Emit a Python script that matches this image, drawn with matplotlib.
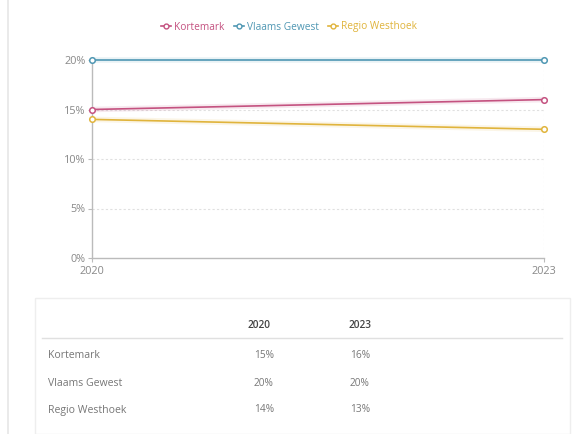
import matplotlib
matplotlib.use("Agg")
import matplotlib.pyplot as plt
from matplotlib.lines import Line2D
from matplotlib.patches import Rectangle

years = [2020, 2023]
series_names = ["Kortemark", "Vlaams Gewest", "Regio Westhoek"]
kortemark = [15, 16]
vlaams_gewest = [20, 20]
regio_westhoek = [14, 13]
series_values = [kortemark, vlaams_gewest, regio_westhoek]
colors = ["#c45280", "#4f97b3", "#e0b43c"]
yticks = [0, 5, 10, 15, 20]

W, H = 585, 434
plt.rcParams['font.family'] = ['Open Sans', 'DejaVu Sans']
fig = plt.figure(figsize=(W / 100, H / 100), dpi=100)
fig.patch.set_facecolor("white")

def fx(px):
    return px / W

def fy(py):
    return 1 - py / H

# left page border line
fig.add_artist(Line2D([fx(8), fx(8)], [0, 1], color="#e6e6e6", lw=1.2, transform=fig.transFigure))

# chart axes
x0, x1 = 92, 544
ytop, ybot = 60, 258
ax = fig.add_axes([fx(x0), fy(ybot), fx(x1) - fx(x0), fy(ytop) - fy(ybot)])
ax.set_xlim(years[0], years[-1])
ax.set_ylim(0, 20)
for s in ["top", "right"]:
    ax.spines[s].set_visible(False)
for s in ["left", "bottom"]:
    ax.spines[s].set_color("#bbbbbb")
    ax.spines[s].set_linewidth(1.0)

ax.set_yticks(yticks)
ax.set_yticklabels([f"{v}%" for v in yticks])
ax.set_xticks(years)
ax.set_xticklabels([str(y) for y in years])
ax.tick_params(axis="both", colors="#bbbbbb", labelcolor="#888888", labelsize=7.8, length=3, width=0.8)
ax.tick_params(axis="x", pad=2.5)
ax.tick_params(axis="y", pad=1.5)

for v in yticks[1:-1]:
    ax.axhline(v, color="#e0e0e0", lw=0.8, ls=(0, (2, 2)), zorder=0)
ax.axvline(years[-1], color="#e0e0e0", lw=0.8, ls=(0, (2, 2)), zorder=0)

for name, vals, c in zip(series_names, series_values, colors):
    ax.plot(years, vals, color=c, lw=4, alpha=0.12, clip_on=False, zorder=2, solid_capstyle="butt")
    ax.plot(years, vals, color=c, lw=1.2, marker="o", markersize=4, markerfacecolor="white",
            markeredgecolor=c, markeredgewidth=1.1, clip_on=False, zorder=3, label=name)

handles = [Line2D([], [], color=c, lw=1.2, marker="o", markersize=3.5, markerfacecolor="white",
                  markeredgecolor=c, markeredgewidth=1) for c in colors]
leg = fig.legend(handles, series_names, loc="center", bbox_to_anchor=(fx(289), fy(27)), ncol=3,
                 frameon=False, fontsize=7.3, handlelength=1.0, handletextpad=0.3, columnspacing=0.9)
for t, c in zip(leg.get_texts(), colors):
    t.set_color(c)

# table
fig.add_artist(Rectangle((fx(35), 0), fx(570) - fx(35), fy(298), transform=fig.transFigure,
                         facecolor="white", edgecolor="#eeeeee", lw=1.0))
fig.add_artist(Line2D([fx(42), fx(562)], [fy(338), fy(338)], color="#e0e0e0", lw=1.0, transform=fig.transFigure))
head_x = [fx(259), fx(360)]
col_x = [fx(264), fx(360)]
for cx, y in zip(head_x, years):
    fig.text(cx, fy(325), str(y), ha="center", va="center", fontsize=7.3, color="#444444", fontweight="semibold")
row_y = [355, 383, 410]
for ry, name, vals in zip(row_y, series_names, series_values):
    fig.text(fx(48), fy(ry), name, ha="left", va="center", fontsize=7.6, color="#777777")
    for cx, v in zip(col_x, vals):
        fig.text(cx, fy(ry), f"{v}%", ha="center", va="center", fontsize=7.3, color="#777777")

fig.savefig("out.png", dpi=100, facecolor="white")
